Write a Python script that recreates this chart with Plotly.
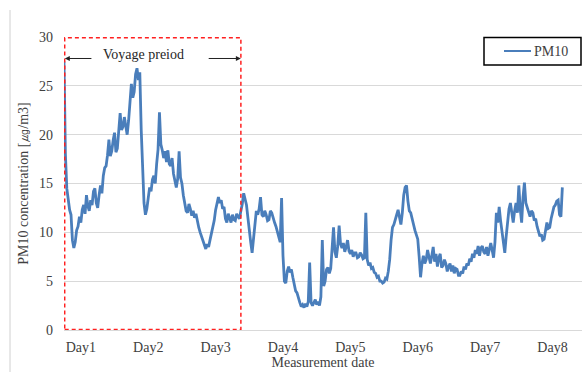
import plotly.graph_objects as go

# PM10 readings, one every half hour from the start of the record (㎍/m3)
pm10 = [
    27.5, 18.0, 14.5, 13.2, 12.3, 11.8, 9.2, 8.4, 9.0, 10.2, 10.6, 11.6,
    11.0, 12.3, 12.8, 11.9, 13.8, 12.7, 12.2, 13.3, 12.8, 14.2, 14.5, 13.0,
    12.5, 13.8, 14.8, 14.0, 15.8, 16.6, 16.8, 17.9, 19.5, 17.8, 18.3, 19.4,
    20.2, 18.2, 18.6, 20.4, 22.2, 20.5, 20.8, 21.8, 21.0, 20.0, 21.4, 23.6,
    25.2, 23.8, 24.4, 26.2, 26.8, 25.6, 26.4, 20.5, 16.0, 13.0, 11.8, 12.4,
    13.5, 14.6, 14.2, 15.4, 15.8, 15.0, 17.0, 18.5, 22.3, 19.0, 18.4, 17.6,
    18.3, 17.2, 18.4, 17.0, 16.8, 17.6, 16.0, 15.2, 14.6, 15.5, 18.3, 15.6,
    15.0, 13.8, 12.8, 12.2, 12.0, 12.9, 12.4, 11.7, 12.2, 11.5, 11.9, 11.0,
    10.5, 10.0, 9.6, 9.0, 8.6, 8.3, 8.8, 8.5, 9.2, 9.8, 10.5, 11.2,
    12.3, 12.9, 13.6, 13.0, 13.3, 12.4, 12.6, 11.4, 11.0, 11.9, 11.5, 11.0,
    11.8, 11.3, 11.2, 11.9, 11.6, 11.4, 12.2, 12.9, 14.0, 13.2, 12.8, 11.5,
    10.5, 9.0, 7.9, 9.6, 11.2, 12.2, 11.8, 12.4, 13.6, 11.8, 11.6, 12.2,
    11.8, 11.2, 11.3, 12.2, 12.0, 11.4, 11.0, 10.6, 10.0, 9.6, 9.0, 13.5,
    7.6, 5.0, 4.8, 6.0, 6.5, 5.9, 6.2, 5.4, 4.5, 4.0, 3.8, 3.2,
    2.8, 2.4, 2.6, 2.3, 2.7, 2.4, 2.9, 6.9, 2.8, 2.5, 2.8, 3.1,
    2.6, 2.9, 2.5, 3.4, 9.2, 4.5, 5.0, 6.2, 6.4, 5.8, 6.3, 8.0,
    10.5, 8.0, 7.4, 8.6, 10.7, 8.8, 8.4, 8.9, 8.0, 8.5, 9.2, 8.1,
    7.8, 8.2, 7.5, 7.9, 7.9, 7.4, 7.5, 7.9, 7.7, 7.3, 7.4, 12.0,
    7.2, 6.6, 6.9, 6.3, 6.4, 5.9, 5.8, 5.4, 5.5, 5.0, 5.0, 4.8,
    4.9, 5.3, 5.2, 6.0, 7.2, 9.2, 10.5, 10.8, 11.2, 11.8, 12.3, 11.5,
    10.8, 12.0, 13.8, 14.6, 14.8, 13.2, 12.2, 12.0, 11.5, 10.8, 10.2, 9.8,
    9.3, 7.5, 5.4, 6.8, 7.6, 6.8, 7.2, 8.2, 7.6, 6.8, 7.6, 8.5,
    7.0, 7.8, 6.5, 7.4, 7.8, 6.4, 6.6, 7.2, 6.8, 6.0, 6.5, 6.8,
    6.0, 6.6, 5.8, 6.3, 6.2, 5.6, 5.6, 6.0, 5.8, 6.5, 6.2, 6.8,
    6.6, 7.3, 7.0, 7.8, 7.4, 8.2, 7.8, 8.6, 7.6, 8.4, 8.6, 8.0,
    7.8, 8.5, 7.6, 8.4, 8.9, 8.2, 7.4, 9.0, 12.0, 11.0, 12.6, 11.2,
    10.2, 9.0, 7.9, 9.6, 11.0, 12.4, 13.0, 11.8, 11.0, 12.2, 13.0, 12.0,
    14.8, 12.4, 11.0, 13.6, 15.1, 13.0, 12.5, 12.0, 11.6, 12.2, 12.0, 11.2,
    11.4, 10.6, 10.2, 9.6, 9.8, 9.2, 9.3, 10.2, 11.0, 10.4, 10.5, 11.4,
    12.0, 12.6, 12.8, 13.2, 13.3, 11.8, 11.6, 14.6,
]
hours = [i * 0.5 for i in range(len(pm10))]

# Day labels sit mid-way through each day of the record
day_labels = ["Day1", "Day2", "Day3", "Day4", "Day5", "Day6", "Day7", "Day8"]
day_ticks = [6 + 24 * k for k in range(len(day_labels))]

voyage_start = 0
voyage_end = 63

serif = "Liberation Serif, Times New Roman, serif"
line_blue = "#4a7ebb"
text_grey = "#404040"

# plot area in pixels: 518 wide, 293 tall
PW, PH = 518, 293


def px_x(p):
    """paper x from a pixel offset measured from the plot's left edge"""
    return p / PW


def px_y(p):
    """paper y from a pixel offset measured down from the plot's top edge"""
    return 1 - p / PH


fig = go.Figure()
fig.add_trace(go.Scatter(
    x=hours, y=pm10, mode="lines", name="PM10", showlegend=False,
    line=dict(color=line_blue, width=2.8),
))

# Voyage period box
fig.add_shape(type="rect", xref="x", yref="y",
              x0=voyage_start + 0.25, x1=voyage_end, y0=0.05, y1=29.93,
              line=dict(color="#ff2020", width=1.5, dash="4px,3px"),
              layer="above")

# Arrows marking the voyage period
fig.add_annotation(x=voyage_start + 0.3, y=27.8, ax=10.3, ay=27.8,
                   xref="x", yref="y", axref="x", ayref="y",
                   text="", showarrow=True, arrowhead=2, arrowsize=1,
                   arrowwidth=1, arrowcolor="#222222")
fig.add_annotation(x=voyage_end, y=27.8, ax=51.0, ay=27.8,
                   xref="x", yref="y", axref="x", ayref="y",
                   text="", showarrow=True, arrowhead=2, arrowsize=1,
                   arrowwidth=1, arrowcolor="#222222")
fig.add_annotation(x=28.2, y=28.2, xref="x", yref="y",
                   text="Voyage preiod", showarrow=False,
                   font=dict(family=serif, size=14, color="#262626"))

# Legend box drawn in the upper right corner
fig.add_shape(type="rect", xref="paper", yref="paper",
              x0=px_x(420), x1=px_x(517), y0=px_y(28), y1=px_y(0.5),
              line=dict(color="#000000", width=1.5), fillcolor="white",
              layer="above")
fig.add_shape(type="line", xref="paper", yref="paper",
              x0=px_x(440), x1=px_x(467), y0=px_y(14), y1=px_y(14),
              line=dict(color=line_blue, width=2), layer="above")
fig.add_annotation(x=px_x(468), y=px_y(14), xref="paper", yref="paper",
                   xanchor="left", yanchor="middle", text="PM10",
                   showarrow=False,
                   font=dict(family=serif, size=14, color=text_grey))

# Chart-area border on the left
fig.add_shape(type="line", xref="paper", yref="paper",
              x0=px_x(-54), x1=px_x(-54), y0=px_y(PH + 42), y1=px_y(-27),
              line=dict(color="#d0d0d0", width=1))

fig.update_layout(
    width=582, height=372,
    margin=dict(l=64, r=0, t=37, b=42),
    paper_bgcolor="white", plot_bgcolor="white",
    font=dict(family=serif, size=14, color=text_grey),
    showlegend=False,
)
fig.update_xaxes(
    range=[0, 184.5], tickmode="array", tickvals=day_ticks, ticktext=day_labels,
    showgrid=False, zeroline=False, showline=True, linecolor="#d9d9d9",
    ticks="", ticklabelstandoff=4,
    tickfont=dict(family=serif, size=14, color=text_grey),
    title=dict(text="Measurement date", standoff=1,
               font=dict(family=serif, size=14, color=text_grey)),
)
fig.update_yaxes(
    range=[0, 30], tickvals=[0, 5, 10, 15, 20, 25, 30],
    showgrid=True, gridcolor="#d9d9d9", gridwidth=1, zeroline=False,
    ticks="", ticklabelstandoff=10,
    tickfont=dict(family=serif, size=14, color=text_grey),
    title=dict(text="PM10 concentration [㎍/m3]", standoff=7,
               font=dict(family=serif, size=14, color=text_grey)),
)

fig.write_html("out.html")
